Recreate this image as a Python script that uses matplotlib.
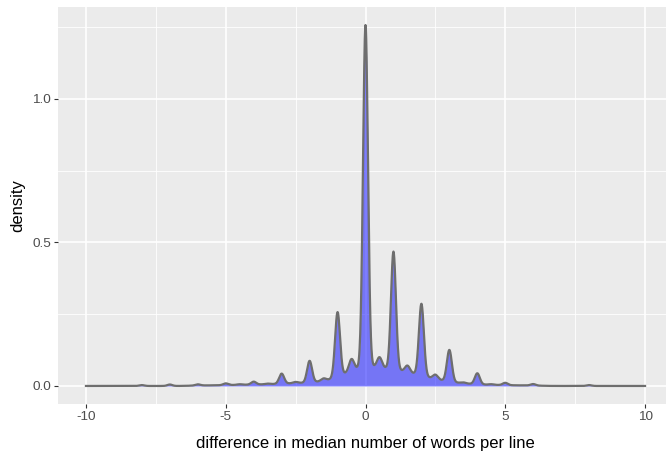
import numpy as np
import matplotlib
matplotlib.use("Agg")
import matplotlib.pyplot as plt
from matplotlib.ticker import FixedLocator

# narrow peaks: value of the difference and peak height above the floor
peak_pos = [-8, -7, -6, -5, -4.5, -4, -3.5, -3, -2.5, -2, -1.5, -1, -0.5,
            0, 0.5, 1, 1.5, 2, 2.5, 3, 3.5, 4, 4.5, 5, 6, 8]
peak_amp = [0.003, 0.005, 0.004, 0.006, 0.002, 0.010, 0.002, 0.035, 0.004, 0.075, 0.008, 0.225, 0.040,
            1.190, 0.035, 0.410, 0.022, 0.250, 0.015, 0.110, 0.003, 0.038, 0.002, 0.008, 0.005, 0.003]

# smooth floor under the peaks (density level between the peaks)
floor_pos = [-6, -5.5, -5, -4.5, -4, -3.5, -3, -2.5, -2, -1.5, -1, -0.5,
             0, 0.5, 1, 1.5, 2, 2.5, 3, 3.5, 4, 4.5, 5, 5.5, 6]
floor_lvl = [0.002, 0.002, 0.003, 0.004, 0.005, 0.006, 0.008, 0.010, 0.012, 0.017, 0.030, 0.056,
             0.070, 0.066, 0.058, 0.050, 0.036, 0.024, 0.015, 0.009, 0.006, 0.004, 0.003, 0.002, 0.002]

x_range = [-10, 10]
x_ticks = [-10, -5, 0, 5, 10]
y_ticks = [0.0, 0.5, 1.0]

PEAK_BW = 0.088
FLOOR_BW = 0.3


def density(x):
    d = np.zeros_like(x)
    for p, a in zip(peak_pos, peak_amp):
        d += a * np.exp(-0.5 * ((x - p) / PEAK_BW) ** 2)
    for p, f in zip(floor_pos, floor_lvl):
        w = f * 0.5 / (FLOOR_BW * np.sqrt(2 * np.pi))
        d += w * np.exp(-0.5 * ((x - p) / FLOOR_BW) ** 2)
    return d


xs = np.linspace(x_range[0], x_range[1], 4001)
ys = density(xs)

plt.rcParams["font.family"] = ["Liberation Sans", "DejaVu Sans"]
plt.rcParams["axes.unicode_minus"] = False

fig = plt.figure(figsize=(6.66, 4.66), dpi=100)
ax = fig.add_axes([58 / 666, 62 / 466, 615 / 666, 397 / 466])
ax.set_facecolor("#EBEBEB")
for s in ax.spines.values():
    s.set_visible(False)

ax.fill_between(xs, 0, ys, color="#0000FF", alpha=0.5, lw=0)
ax.plot(xs, ys, color="#6E6E6E", lw=1.6)

span = x_range[1] - x_range[0]
ax.set_xlim(x_range[0] - 0.05 * span, x_range[1] + 0.05 * span)
ymax = ys.max()
ax.set_ylim(-0.05 * ymax, ymax * 1.05)

ax.xaxis.set_major_locator(FixedLocator(x_ticks))
ax.xaxis.set_minor_locator(FixedLocator([-7.5, -2.5, 2.5, 7.5]))
ax.yaxis.set_major_locator(FixedLocator(y_ticks))
ax.yaxis.set_minor_locator(FixedLocator([0.25, 0.75, 1.25]))
ax.set_xticklabels([str(t) for t in x_ticks])
ax.set_yticklabels(["%.1f" % t for t in y_ticks])

ax.grid(which="major", color="white", lw=1.2)
ax.grid(which="minor", color="white", lw=0.6)
ax.set_axisbelow(True)

ax.tick_params(which="major", length=3, width=0.8, color="#333333",
               labelcolor="#4D4D4D", labelsize=9.7, pad=2)
ax.tick_params(which="minor", length=0)

ax.set_xlabel("difference in median number of words per line", fontsize=12, color="black")
ax.set_ylabel("density", fontsize=12, color="black")
ax.xaxis.set_label_coords(0.5, -0.08)
ax.yaxis.set_label_coords(-0.054, 0.5)

fig.savefig("out.png", dpi=100)
